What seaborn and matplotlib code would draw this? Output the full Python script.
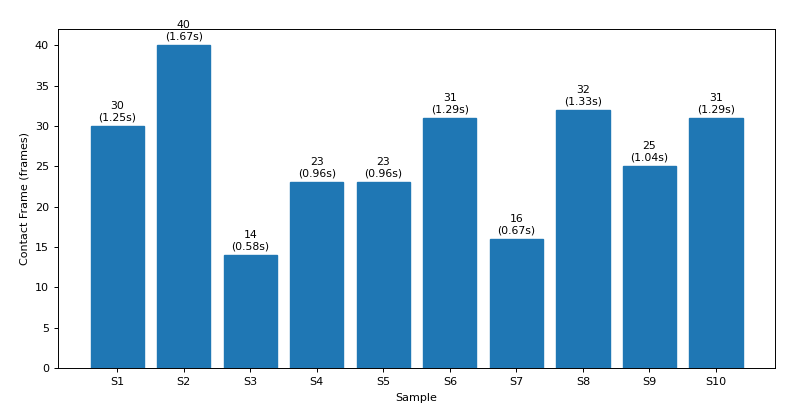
import matplotlib
matplotlib.use("Agg")
import matplotlib.pyplot as plt
import seaborn as sns
import pandas as pd

samples = ["S1", "S2", "S3", "S4", "S5", "S6", "S7", "S8", "S9", "S10"]
frames = [30, 40, 14, 23, 23, 31, 16, 32, 25, 31]
seconds = ["1.25s", "1.67s", "0.58s", "0.96s", "0.96s", "1.29s", "0.67s", "1.33s", "1.04s", "1.29s"]

df = pd.DataFrame({"Sample": samples, "Frames": frames})

fig = plt.figure(figsize=(8, 4.18), dpi=100)
ax = fig.add_axes([0.0725, 0.1196, 0.8965, 0.811])
sns.barplot(data=df, x="Sample", y="Frames", color="#1f77b4", saturation=1,
            width=0.8, ax=ax, edgecolor="#1f77b4")
for i, (f, s) in enumerate(zip(frames, seconds)):
    ax.annotate(f"{f}\n({s})", (i, f), xytext=(0, 2.5), textcoords="offset points",
                ha="center", va="bottom", fontsize=7.8, linespacing=1.2)
ax.set_ylim(0, 42)
ax.set_xlim(-0.89, 9.89)
ax.set_xlabel("Sample", fontsize=8)
ax.set_ylabel("Contact Frame (frames)", fontsize=8)
ax.tick_params(labelsize=8, width=0.7, length=3)
for sp in ax.spines.values():
    sp.set_linewidth(0.7)
fig.savefig("out.png", dpi=100)
